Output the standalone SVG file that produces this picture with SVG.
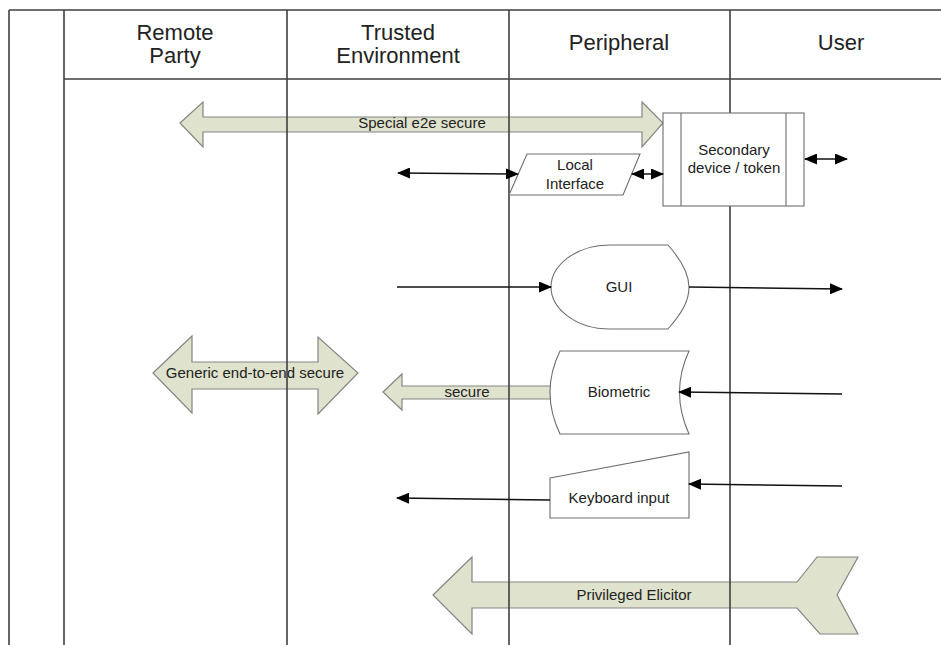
<svg xmlns="http://www.w3.org/2000/svg" width="941" height="645" viewBox="0 0 941 645">
  <style>
    .lane { stroke: #404040; stroke-width: 1.6; fill: none; }
    .block { fill: #dfe2cd; stroke: #858585; stroke-width: 1.2; }
    .node { fill: #fff; stroke: #6e6e6e; stroke-width: 1.1; }
    .flow { stroke: #111; stroke-width: 1.5; fill: none; }
    .hdr { font-family: "Liberation Sans", Arial, sans-serif; font-size: 22px; fill: #222; text-anchor: middle; }
    .lbl { font-family: "Liberation Sans", Arial, sans-serif; font-size: 15px; fill: #222; text-anchor: middle; }
  </style>
  <defs>
    <marker id="tip" viewBox="0 0 13 11" refX="12" refY="5.5" markerWidth="13" markerHeight="11" markerUnits="userSpaceOnUse" orient="auto-start-reverse">
      <path d="M0,0 L13,5.5 L0,11 Z" fill="#000"/>
    </marker>
  </defs>
  <rect width="941" height="645" fill="#fff"/>

  <!-- wide block arrows -->
  <g id="special-e2e">
    <polygon class="block" points="180,123 203,102 203,117 642,117 642,102 663,123 642,147 642,132 203,132 203,147"/>
    <text class="lbl" x="422" y="128">Special e2e secure</text>
  </g>
  <g id="generic-e2e">
    <polygon class="block" points="153,373 192,336 192,362 318,362 318,337 358,373 318,414 318,389 192,389 192,413"/>
    <text class="lbl" x="255" y="378">Generic end-to-end secure</text>
  </g>
  <g id="secure">
    <polygon class="block" points="383,392 402,374 402,386 558,386 558,399 402,399 402,410"/>
    <text class="lbl" x="467" y="397">secure</text>
  </g>
  <g id="privileged-elicitor">
    <polygon class="block" points="433,595 472,557 472,582 797,582 817,557 858,557 837,595 858,634 820,634 797,608 472,608 472,634"/>
    <text class="lbl" x="634" y="600">Privileged Elicitor</text>
  </g>

  <!-- swimlane table -->
  <g id="lanes">
    <path class="lane" d="M9,10 H941 M9,10 V645 M64,10 V645 M287,10 V645 M509,10 V645 M730,10 V645 M64,79 H941"/>
    <text class="hdr" x="175" y="40">Remote</text>
    <text class="hdr" x="175" y="63">Party</text>
    <text class="hdr" x="398" y="40">Trusted</text>
    <text class="hdr" x="398" y="63">Environment</text>
    <text class="hdr" x="619" y="50">Peripheral</text>
    <text class="hdr" x="841" y="50">User</text>
  </g>

  <!-- component nodes -->
  <g id="local-interface">
    <polygon class="node" points="527,154 640,154 623,195 509,195"/>
    <text class="lbl" x="575" y="170">Local</text>
    <text class="lbl" x="575" y="189">Interface</text>
  </g>
  <g id="secondary-device">
    <rect class="node" x="663" y="113" width="141" height="93"/>
    <path class="node" d="M681,113 V206 M786,113 V206"/>
    <text class="lbl" x="734" y="155">Secondary</text>
    <text class="lbl" x="734" y="173">device / token</text>
  </g>
  <g id="gui">
    <path class="node" d="M610,245 L668,245 C683,262 689,275 689,287 C689,300 683,312 668,329 L610,329 C575,329 551,308 551,287 C551,266 575,245 610,245 Z"/>
    <text class="lbl" x="619" y="292">GUI</text>
  </g>
  <g id="biometric">
    <path class="node" d="M560,351 L689,351 Q670,392 689,434 L560,434 Q540,392 560,351 Z"/>
    <text class="lbl" x="619" y="397">Biometric</text>
  </g>
  <g id="keyboard-input">
    <polygon class="node" points="550,478 689,452 689,518 550,518"/>
    <text class="lbl" x="619" y="503">Keyboard input</text>
  </g>

  <!-- connectors -->
  <g id="connectors">
    <path class="flow" d="M398,173 L518,174" marker-start="url(#tip)" marker-end="url(#tip)"/>
    <path class="flow" d="M632,174 L663,174" marker-start="url(#tip)" marker-end="url(#tip)"/>
    <path class="flow" d="M805,159 L847,159" marker-start="url(#tip)" marker-end="url(#tip)"/>
    <path class="flow" d="M397,287 L551,287" marker-end="url(#tip)"/>
    <path class="flow" d="M689,287 L842,289" marker-end="url(#tip)"/>
    <path class="flow" d="M842,394 L679,392" marker-end="url(#tip)"/>
    <path class="flow" d="M842,486 L689,484" marker-end="url(#tip)"/>
    <path class="flow" d="M550,500 L397,498" marker-end="url(#tip)"/>
  </g>
</svg>
